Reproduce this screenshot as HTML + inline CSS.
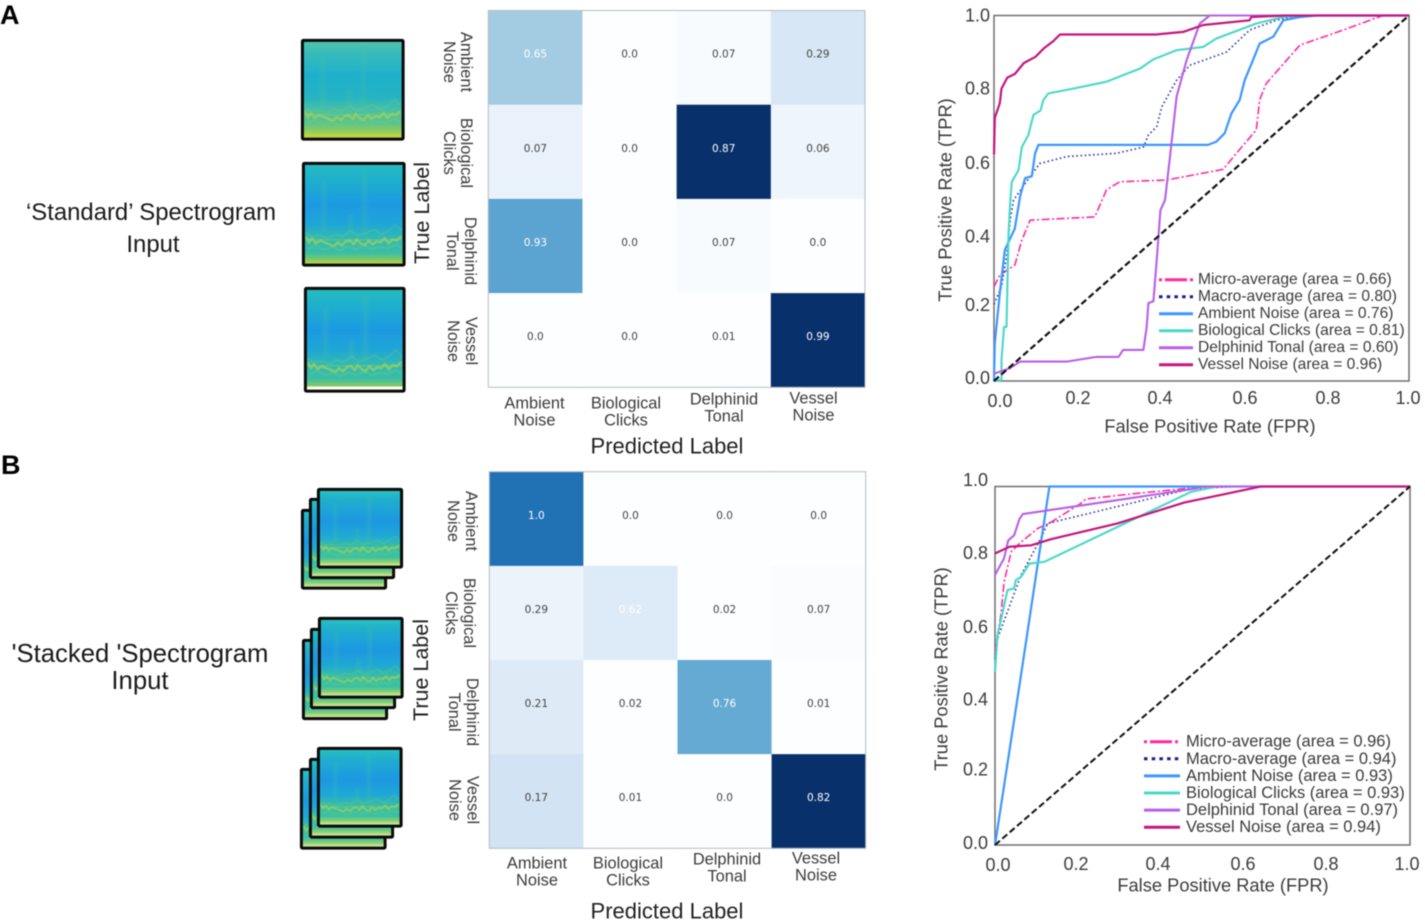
<!DOCTYPE html>
<html lang="en">
<head>
<meta charset="utf-8">
<title>Spectrogram classifier results</title>
<style>
  html, body { margin: 0; padding: 0; background: #fff; width: 1425px; height: 924px; overflow: hidden; }
  #fig { position: absolute; left: 0; top: 0; filter: blur(0.4px); }
  text { font-family: "Liberation Sans", sans-serif; fill: #3b3b3b; }
  .num { font-family: "DejaVu Sans", sans-serif; font-size: 10.5px; }
  .side { fill: #1a1a1a; }
</style>
</head>
<body>
<svg id="fig" xmlns="http://www.w3.org/2000/svg" width="1425" height="924" viewBox="0 0 1425 924">
  <defs>
    <linearGradient id="gGreen" x1="0" y1="0" x2="0" y2="1">
      <stop offset="0" stop-color="#52c4ac"/><stop offset=".12" stop-color="#38bcba"/>
      <stop offset=".35" stop-color="#1eb0cc"/><stop offset=".58" stop-color="#25b4c2"/>
      <stop offset=".7" stop-color="#48c0a6"/><stop offset=".84" stop-color="#58c48e"/>
      <stop offset=".92" stop-color="#8ccc60"/><stop offset="1" stop-color="#d4d838"/>
    </linearGradient>
    <linearGradient id="gBlue" x1="0" y1="0" x2="0" y2="1">
      <stop offset="0" stop-color="#27bcc0"/><stop offset=".15" stop-color="#1fb0cc"/>
      <stop offset=".4" stop-color="#1c9ae2"/><stop offset=".6" stop-color="#1fa6d6"/>
      <stop offset=".72" stop-color="#2fb8b8"/><stop offset=".88" stop-color="#38bea8"/>
      <stop offset=".95" stop-color="#7cc868"/><stop offset="1" stop-color="#c8d63c"/>
    </linearGradient>
    <linearGradient id="gStack" x1="0" y1="0" x2="0" y2="1">
      <stop offset="0" stop-color="#2cc0c0"/><stop offset=".12" stop-color="#20b0cc"/>
      <stop offset=".4" stop-color="#1c98e2"/><stop offset=".6" stop-color="#1fa8d4"/>
      <stop offset=".72" stop-color="#35bcac"/><stop offset=".88" stop-color="#3cc2a0"/>
      <stop offset=".94" stop-color="#8cd070"/><stop offset="1" stop-color="#ecf0b0"/>
    </linearGradient>
    <filter id="soft" x="-5%" y="-5%" width="110%" height="110%"><feGaussianBlur stdDeviation="0.6"/></filter>
    <filter id="softer" x="-10%" y="-10%" width="120%" height="120%"><feGaussianBlur stdDeviation="1.8"/></filter>
    <g id="specMarks">
      <path d="M20 18V68M61 8V70M47 50V72" stroke="#4cc4a0" stroke-width="4" fill="none" opacity=".28" filter="url(#softer)"/>
      <path d="M0 76L100 75" stroke="#88cc68" stroke-width="7" fill="none" opacity=".45" filter="url(#softer)"/>
      <path d="M2 72L5 78 8 74 12 79 16 76 21 78 26 80 30 82 34 78 38 81 42 77 46 76 50 80 53 75 57 79 61 81 65 76 69 80 73 77 77 78 81 74 85 79 89 75 93 76 98 72" stroke="#b4d44c" stroke-width="2.2" fill="none" opacity=".7" filter="url(#soft)"/>
      <path d="M0 68L8 72 15 71 24 74 31 70 39 72 47 66 53 71 62 69 70 65 78 70 86 66 92 60 98 66" stroke="#7ccc78" stroke-width="1" fill="none" opacity=".5" filter="url(#soft)"/>
      <path d="M4 84L12 81 20 85 28 83 36 86 44 82 52 85 60 81 68 85 76 82 84 84 92 80 98 83" stroke="#8ad068" stroke-width="1.2" fill="none" opacity=".45" filter="url(#soft)"/>
    </g>
    <symbol id="specGreen" viewBox="0 0 100 100" preserveAspectRatio="none"><rect width="100" height="100" fill="url(#gGreen)"/><use href="#specMarks"/></symbol>
    <symbol id="specBlue" viewBox="0 0 100 100" preserveAspectRatio="none"><rect width="100" height="100" fill="url(#gBlue)"/><use href="#specMarks"/></symbol>
    <symbol id="specStack" viewBox="0 0 100 100" preserveAspectRatio="none"><rect width="100" height="100" fill="url(#gStack)"/><use href="#specMarks"/></symbol>
  </defs>

  <text x="0" y="24" font-size="27" font-weight="700" style="fill:#000">A</text>
  <text x="1" y="474" font-size="27" font-weight="700" style="fill:#000">B</text>

  <text class="side" x="151" y="220" font-size="23.9" text-anchor="middle">‘Standard’ Spectrogram</text>
  <text class="side" x="153" y="252" font-size="23.9" text-anchor="middle">Input</text>
  <text class="side" x="140" y="662" font-size="25.7" text-anchor="middle">'Stacked 'Spectrogram</text>
  <text class="side" x="140" y="689" font-size="25.7" text-anchor="middle">Input</text>

  <g id="spectrograms"></g>
  <g id="heatmaps"></g>
  <g id="rocs"></g>
</svg>

<script>
/* ---------- confusion matrix data ---------- */
const categoryLines = [["Ambient", "Noise"], ["Biological", "Clicks"], ["Delphinid", "Tonal"], ["Vessel", "Noise"]];
const matrixValuesA = [
  [0.65, 0.0, 0.07, 0.29],
  [0.07, 0.0, 0.87, 0.06],
  [0.93, 0.0, 0.07, 0.0],
  [0.0, 0.0, 0.01, 0.99]
];
const matrixShadeA = [
  [0.36, 0.0, 0.02, 0.16],
  [0.08, 0.0, 1.0, 0.06],
  [0.55, 0.0, 0.02, 0.0],
  [0.0, 0.0, 0.0, 1.0]
];
const matrixValuesB = [
  [1.0, 0.0, 0.0, 0.0],
  [0.29, 0.62, 0.02, 0.07],
  [0.21, 0.02, 0.76, 0.01],
  [0.17, 0.01, 0.0, 0.82]
];
const matrixShadeB = [
  [0.75, 0.0, 0.0, 0.0],
  [0.07, 0.13, 0.0, 0.01],
  [0.125, 0.0, 0.52, 0.0],
  [0.19, 0.0, 0.0, 1.0]
];

/* ---------- ROC data, panel A ---------- */
const microFprA = [0, .014, .05, .067, .087, .243, .271, .303, .416, .552, .584, .632, .64, .656, .737, .841, .937, 1];
const microTprA = [.258, .29, .317, .385, .44, .449, .523, .545, .55, .579, .623, .687, .769, .814, .919, .96, 1, 1];
const macroFprA = [0, .018, .03, .039, .047, .075, .11, .175, .295, .36, .372, .392, .404, .44, .472, .56, .616, .68, .737, 1];
const macroTprA = [.21, .258, .34, .44, .495, .54, .595, .614, .623, .64, .673, .696, .75, .823, .864, .90, .96, .987, 1, 1];
const ambientFprA = [0, .002, .014, .026, .035, .05, .063, .075, .091, .099, .107, .516, .536, .556, .572, .592, .604, .624, .64, .673, .697, .737, .777, 1];
const ambientTprA = [0, .104, .24, .358, .38, .417, .505, .555, .56, .623, .646, .646, .655, .678, .732, .769, .823, .878, .923, .942, .987, .996, 1, 1];
const bioFprA = [0, .018, .018, .024, .03, .035, .039, .043, .059, .067, .083, .095, .112, .119, .131, .191, .271, .352, .384, .44, .504, .536, .632, .697, .737, 1];
const bioTprA = [0, .003, .057, .148, .148, .4, .49, .545, .577, .64, .673, .728, .74, .769, .787, .80, .819, .855, .88, .905, .914, .937, .978, .996, 1, 1];
const delphFprA = [0, .038, .063, .175, .247, .3, .311, .36, .368, .372, .384, .392, .401, .412, .424, .44, .464, .496, .52, 1];
const delphTprA = [.02, .035, .053, .053, .066, .066, .085, .085, .148, .213, .218, .33, .467, .495, .614, .778, .878, .978, 1, 1];
const vesselFprA = [0, .002, .014, .018, .032, .05, .072, .1, .12, .143, .159, .39, .456, .504, .616, .62, .7, 1];
const vesselTprA = [.62, .72, .76, .80, .83, .84, .87, .887, .91, .93, .948, .948, .955, .974, .987, .996, 1, 1];

/* ---------- ROC data, panel B ---------- */
const microFprB = [0, .014, .022, .039, .059, .103, .135, .207, .219, .335, .456, .504, 1];
const microTprB = [.54, .64, .734, .818, .841, .883, .90, .953, .965, .98, .994, 1, 1];
const macroFprB = [0, .006, .063, .11, .127, .472, .584, 1];
const macroTprB = [.52, .576, .753, .855, .897, .994, 1, 1];
const ambientFprB = [0, .059, .131, 1];
const ambientTprB = [0, .446, 1, 1];
const bioFprB = [0, .006, .03, .046, .05, .063, .083, .119, .472, .536, 1];
const bioTprB = [.483, .585, .711, .716, .739, .748, .785, .79, .985, 1, 1];
const delphFprB = [0, .022, .032, .046, .059, .067, .2, .48, .504, 1];
const delphTprB = [.753, .80, .85, .864, .91, .923, .946, .994, 1, 1];
const vesselFprB = [0, .035, .087, .135, .295, .456, .616, .64, 1];
const vesselTprB = [.813, .832, .836, .853, .897, .955, .994, 1, 1];

const chanceFpr = [0, 1];
const chanceTpr = [0, 1];

const seriesNames = ["Micro-average", "Macro-average", "Ambient Noise", "Biological Clicks", "Delphinid Tonal", "Vessel Noise"];
const areasA = [0.66, 0.80, 0.76, 0.81, 0.60, 0.96];
const areasB = [0.96, 0.94, 0.93, 0.93, 0.97, 0.94];
const tickValues = [0, 0.2, 0.4, 0.6, 0.8, 1.0];

/* ---------- helpers ---------- */
const NS = "http://www.w3.org/2000/svg";
function make(tag, attrs, parent) {
  const node = document.createElementNS(NS, tag);
  for (const k in attrs) node.setAttribute(k, attrs[k]);
  parent.appendChild(node);
  return node;
}
function slug(s) { return s.toLowerCase().replace(/[^a-z0-9]+/g, "-"); }

const bluesStops = [[253,254,255],[222,235,247],[198,219,239],[158,202,225],[107,174,214],[66,146,198],[33,113,181],[8,81,156],[8,48,107]];
function bluesColor(t) {
  const p = Math.max(0, Math.min(1, t)) * (bluesStops.length - 1);
  const i = Math.min(bluesStops.length - 2, Math.floor(p));
  const f = p - i;
  const c = bluesStops[i].map((v, k) => Math.round(v + (bluesStops[i + 1][k] - v) * f));
  return "rgb(" + c.join(",") + ")";
}
function printValue(v) {
  return Number.isInteger(Math.round(v * 1000) / 100) ? v.toFixed(1) : String(v);
}

/* ---------- spectrogram cards ---------- */
const specRoot = document.getElementById("spectrograms");
function drawCard(name, x0, y0, x1, y1, symbol, whiteBase) {
  const card = make("g", {}, specRoot);
  
  
  const bg = make("rect", { x: x0, y: y0, width: x1 - x0, height: y1 - y0, fill: "#fff" }, card);
  
  
  const image = make("use", { href: "#" + symbol, x: x0 + 2, y: y0 + 2, width: x1 - x0 - 4, height: y1 - y0 - 4 }, card);
  
  
  if (whiteBase) {
    const strip = make("rect", { x: x0 + 2, y: y1 - 6, width: x1 - x0 - 4, height: 4, fill: "#fffff0" }, card);
    
    
  }
  const border = make("rect", { x: x0 + 1.4, y: y0 + 1.4, width: x1 - x0 - 2.8, height: y1 - y0 - 2.8, fill: "none", stroke: "#0a0a0a", "stroke-width": 3, rx: 1 }, card);
  
  
}
drawCard("standard-spectrogram-1", 301, 39, 404.5, 140.5, "specGreen", false);
drawCard("standard-spectrogram-2", 302, 162, 405.5, 266.5, "specBlue", false);
drawCard("standard-spectrogram-3", 304, 287, 405.5, 392.5, "specBlue", true);
drawCard("stack-1-back", 301, 509, 387, 589.5, "specStack", false);
drawCard("stack-1-middle", 309, 498, 395, 579, "specStack", false);
drawCard("stack-1-front", 317, 488, 403, 568.5, "specStack", false);
drawCard("stack-2-back", 302, 639, 388, 720, "specStack", false);
drawCard("stack-2-middle", 310, 628, 396, 709, "specStack", false);
drawCard("stack-2-front", 318, 617, 403.5, 698.5, "specStack", false);
drawCard("stack-3-back", 300, 768, 386.5, 849.5, "specStack", false);
drawCard("stack-3-middle", 309, 758, 394, 838.5, "specStack", false);
drawCard("stack-3-front", 317, 747, 402.5, 827.5, "specStack", false);

/* ---------- confusion matrices ---------- */
const heatRoot = document.getElementById("heatmaps");
function drawMatrix(cfg) {
  const group = make("g", {}, heatRoot);
  
  
  const n = categoryLines.length;
  const cw = (cfg.x1 - cfg.x0) / n;
  const ch = (cfg.y1 - cfg.y0) / n;
  const colX = i => cfg.x0 + i * cw;
  const rowY = j => cfg.y0 + j * ch;

  cfg.shades.forEach((row, j) => row.forEach((shade, i) => {
    const cell = make("rect", { x: colX(i), y: rowY(j), width: cw + 0.3, height: ch + 0.3, fill: bluesColor(shade) }, group);
    
    
  }));
  const frame = make("rect", { x: cfg.x0, y: cfg.y0, width: cfg.x1 - cfg.x0, height: cfg.y1 - cfg.y0, fill: "none", stroke: "#b4bcc4", "stroke-width": 1 }, group);
  
  

  cfg.values.forEach((row, j) => row.forEach((v, i) => {
    const label = make("text", { class: "num", x: colX(i) + cw / 2, y: rowY(j) + ch / 2 - 3, "text-anchor": "middle", "dominant-baseline": "central" }, group);
    label.style.fill = v > 0.5 ? "#ffffff" : "#444";
    label.textContent = printValue(v);
    
    
  }));

  categoryLines.forEach((lines, i) => {
    const pos = cfg.colLabels[i];
    lines.forEach((line, k) => {
      const t = make("text", { x: pos[0], y: pos[1] + k * 17, "font-size": 16.4, "text-anchor": "middle", "dominant-baseline": "central" }, group);
      t.textContent = line;
      
      
    });
    const rp = cfg.rowLabels[i];
    lines.forEach((line, k) => {
      const lx = rp[0] - k * rp[2];
      const t = make("text", { x: lx, y: rp[1], "font-size": 16.4, "text-anchor": "middle", "dominant-baseline": "central", transform: "rotate(90 " + lx + " " + rp[1] + ")" }, group);
      t.textContent = line;
      
      
    });
  });

  const xt = make("text", { x: cfg.xTitle[0], y: cfg.xTitle[1], "font-size": 22, "text-anchor": "middle", "dominant-baseline": "central" }, group);
  xt.style.fill = "#222";
  xt.textContent = "Predicted Label";
  
  
  const yt = make("text", { x: cfg.yTitle[0], y: cfg.yTitle[1], "font-size": 21.5, "text-anchor": "middle", "dominant-baseline": "central", transform: "rotate(-90 " + cfg.yTitle[0] + " " + cfg.yTitle[1] + ")" }, group);
  yt.style.fill = "#222";
  yt.textContent = "True Label";
  
  
}
drawMatrix({
  id: "confusion-matrix-a", values: matrixValuesA, shades: matrixShadeA,
  x0: 488.3, x1: 865, y0: 10.5, y1: 387.3,
  colLabels: [[534.5, 403.5], [626, 403.5], [724, 399.5], [813.5, 398.5]],
  rowLabels: [[466, 62, 17], [466, 153, 17], [470, 251, 18], [471, 341, 18]],
  xTitle: [667, 446], yTitle: [422, 213]
});
drawMatrix({
  id: "confusion-matrix-b", values: matrixValuesB, shades: matrixShadeB,
  x0: 489.3, x1: 865.7, y0: 471.7, y1: 848.3,
  colLabels: [[537, 863.5], [628, 863.5], [727, 859.5], [816, 858.5]],
  rowLabels: [[471, 521, 18], [469, 613, 18], [472, 712, 18], [472.5, 800, 18]],
  xTitle: [667, 911], yTitle: [421, 670]
});

/* ---------- ROC charts ---------- */
const rocRoot = document.getElementById("rocs");
const seriesStyles = [
  { color: "#ff2aa0", width: 1.6, dash: "8 2.5 2 2.5", legendDash: "3 3 22 3 3" },
  { color: "#3a3ca8", width: 1.7, dash: "1.6 2.6", legendDash: "3.5 4.2", legendColor: "#1b1b8c" },
  { color: "#3d96ff", width: 2.2, dash: "" },
  { color: "#48d8c8", width: 2.1, dash: "" },
  { color: "#b860e4", width: 2.1, dash: "" },
  { color: "#c4167f", width: 2.2, dash: "" }
];
function drawRoc(cfg) {
  const group = make("g", {}, rocRoot);
  
  
  const sx = f => cfg.x0 + f * (cfg.x1 - cfg.x0);
  const sy = t => cfg.y0 - t * (cfg.y0 - cfg.y1);

  const frame = make("rect", { x: cfg.x0, y: cfg.y1, width: cfg.x1 - cfg.x0, height: cfg.y0 - cfg.y1, fill: "#fff", stroke: "#6f6f6f", "stroke-width": 1.5 }, group);
  
  

  tickValues.forEach((v, i) => {
    const xl = make("text", { x: sx(v) + cfg.xNudge[i], y: cfg.xLabelY + (i === 0 ? cfg.zeroDrop : 0), "font-size": 18, "text-anchor": "middle", "dominant-baseline": "central" }, group);
    xl.textContent = v.toFixed(1);
    
    
    const yl = make("text", { x: cfg.yLabelX, y: sy(v) + cfg.yNudge[i], "font-size": 18, "text-anchor": "end", "dominant-baseline": "central" }, group);
    yl.textContent = v.toFixed(1);
    
    
  });

  const toPoints = (xs, ys) => xs.map((x, i) => sx(x).toFixed(1) + "," + sy(ys[i]).toFixed(1)).join(" ");

  cfg.series.forEach((s, i) => {
    const st = seriesStyles[i];
    const line = make("polyline", { points: toPoints(s[0], s[1]), fill: "none", stroke: st.color, "stroke-width": st.width, "stroke-linejoin": "round", "stroke-dasharray": st.dash || "none" }, group);
    
    
  });
  const chance = make("polyline", { points: toPoints(chanceFpr, chanceTpr), fill: "none", stroke: "#111", "stroke-width": cfg.chanceWidth, "stroke-dasharray": "6.5 3.2" }, group);
  
  

  const xt = make("text", { x: cfg.xTitle[0], y: cfg.xTitle[1], "font-size": 18.3, "text-anchor": "middle", "dominant-baseline": "central" }, group);
  xt.textContent = "False Positive Rate (FPR)";
  
  
  const yt = make("text", { x: cfg.yTitle[0], y: cfg.yTitle[1], "font-size": 18.3, "text-anchor": "middle", "dominant-baseline": "central", transform: "rotate(-90 " + cfg.yTitle[0] + " " + cfg.yTitle[1] + ")" }, group);
  yt.textContent = "True Positive Rate (TPR)";
  
  

  const legend = make("g", {}, group);
  
  
  seriesNames.forEach((name, i) => {
    const st = seriesStyles[i];
    const y = cfg.legendY + i * cfg.legendStep;
    const swatch = make("line", { x1: cfg.legendX0, x2: cfg.legendX1, y1: y, y2: y, stroke: st.legendColor || st.color, "stroke-width": 3, "stroke-dasharray": st.legendDash || "none" }, legend);
    
    
    const label = make("text", { x: cfg.legendText, y: y, "font-size": cfg.legendFont, "dominant-baseline": "central" }, legend);
    label.textContent = name + " (area = " + cfg.areas[i].toFixed(2) + ")";
    
    
  });
}
drawRoc({
  id: "roc-chart-a", areas: areasA, chanceWidth: 2.2,
  x0: 994, x1: 1409, y0: 381, y1: 15.5,
  xNudge: [6, 1, 0, 2, 2, -1], yNudge: [-3, -3, 1.5, 1.5, 0, 0],
  xLabelY: 398, zeroDrop: 3, yLabelX: 990,
  xTitle: [1210, 426], yTitle: [945, 200],
  legendX0: 1159, legendX1: 1193, legendText: 1198, legendY: 279.7, legendStep: 17, legendFont: 15.6,
  series: [[microFprA, microTprA], [macroFprA, macroTprA], [ambientFprA, ambientTprA], [bioFprA, bioTprA], [delphFprA, delphTprA], [vesselFprA, vesselTprA]]
});
drawRoc({
  id: "roc-chart-b", areas: areasB, chanceWidth: 2,
  x0: 995, x1: 1410, y0: 845, y1: 486.5,
  xNudge: [3, -2, -3, -1, -1, -3], yNudge: [-2, -4, -2, -3, -5, -6.5],
  xLabelY: 864, zeroDrop: 1, yLabelX: 988,
  xTitle: [1223, 885], yTitle: [941, 669],
  legendX0: 1144, legendX1: 1180, legendText: 1186, legendY: 741.7, legendStep: 17.1, legendFont: 16.5,
  series: [[microFprB, microTprB], [macroFprB, macroTprB], [ambientFprB, ambientTprB], [bioFprB, bioTprB], [delphFprB, delphTprB], [vesselFprB, vesselTprB]]
});
</script>
</body>
</html>
